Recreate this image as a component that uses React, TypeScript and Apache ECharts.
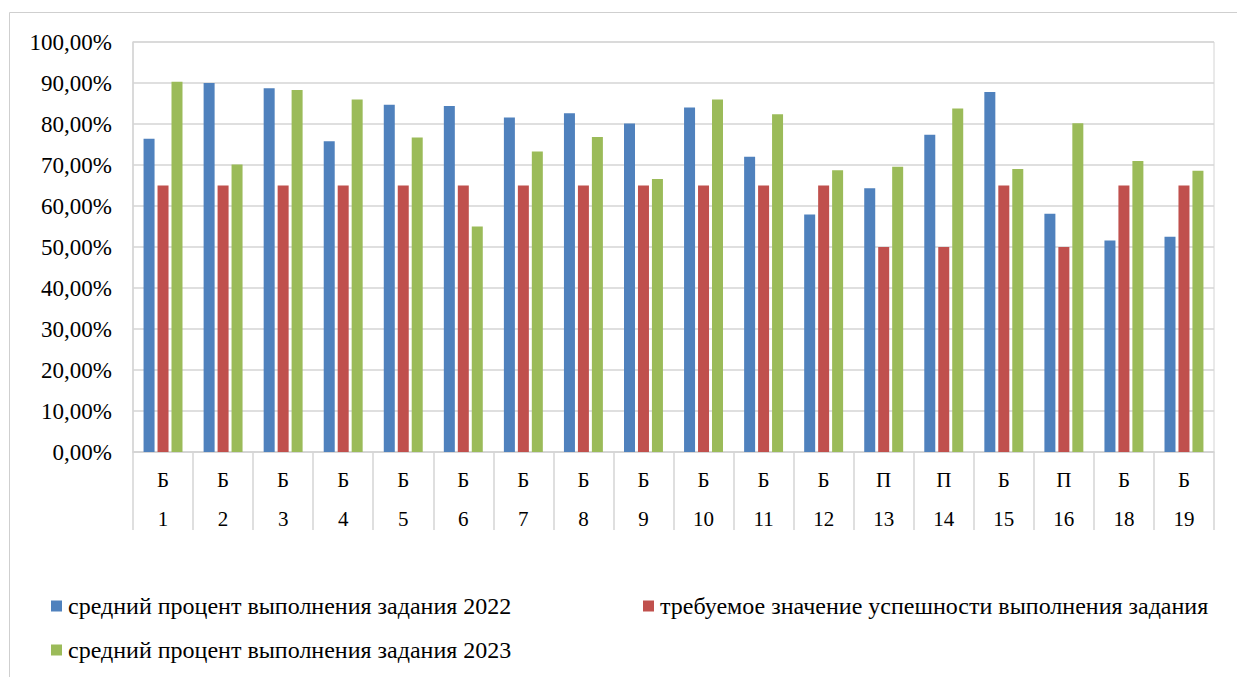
import React, { useEffect, useRef } from "react";
import * as echarts from "echarts";

const types = ["Б", "Б", "Б", "Б", "Б", "Б", "Б", "Б", "Б", "Б", "Б", "Б", "П", "П", "Б", "П", "Б", "Б"];
const numbers = ["1", "2", "3", "4", "5", "6", "7", "8", "9", "10", "11", "12", "13", "14", "15", "16", "18", "19"];

const seriesNames = [
  "средний процент выполнения задания 2022",
  "требуемое значение успешности выполнения задания",
  "средний процент выполнения задания 2023",
];

const avg2022 = [0.764, 0.9, 0.887, 0.758, 0.847, 0.844, 0.816, 0.826, 0.801, 0.84, 0.72, 0.579, 0.643, 0.774, 0.878, 0.581, 0.516, 0.525];
const required = [0.65, 0.65, 0.65, 0.65, 0.65, 0.65, 0.65, 0.65, 0.65, 0.65, 0.65, 0.65, 0.5, 0.5, 0.65, 0.5, 0.65, 0.65];
const avg2023 = [0.903, 0.701, 0.883, 0.86, 0.767, 0.55, 0.733, 0.768, 0.666, 0.86, 0.824, 0.687, 0.696, 0.838, 0.69, 0.802, 0.71, 0.686];

const colors = ["#4F81BD", "#C0504D", "#9BBB59"];
const FONT = "Liberation Serif";

export default function App() {
  const ref = useRef<HTMLDivElement>(null);
  useEffect(() => {
    if (!ref.current) return;
    const chart = echarts.init(ref.current, null, { renderer: "svg" });
    const values = [avg2022, required, avg2023];
    const legendPos = [
      { left: 51, top: 594 },
      { left: 643, top: 594 },
      { left: 51, top: 638 },
    ];
    chart.setOption({
      animation: false,
      color: colors,
      textStyle: { fontFamily: FONT },
      graphic: [
        {
          type: "rect",
          shape: { x: 9.5, y: 12.5, width: 1300, height: 700 },
          style: { fill: "none", stroke: "#cfcfcf", lineWidth: 1 },
          silent: true,
        },
      ],
      legend: seriesNames.map((name, i) => ({
        data: [name],
        left: legendPos[i].left,
        top: legendPos[i].top,
        itemWidth: 11,
        itemHeight: 11,
        itemGap: 5,
        icon: "rect",
        padding: 0,
        selectedMode: false,
        textStyle: { fontFamily: FONT, fontSize: 24, color: "#000", padding: [0, 0, 0, 1] },
      })),
      grid: {
        left: 133,
        right: 23,
        top: 42,
        bottom: 225,
        show: true,
        borderColor: "#d4d4d4",
        borderWidth: 1,
      },
      xAxis: {
        type: "category",
        data: numbers,
        axisLine: { lineStyle: { color: "#d4d4d4", width: 1.5 } },
        axisTick: { show: true, interval: 0, length: 78, lineStyle: { color: "#d4d4d4", width: 1.5 } },
        axisLabel: {
          interval: 0,
          margin: 8,
          fontFamily: FONT,
          fontSize: 21,
          color: "#000",
          lineHeight: 39,
          formatter: (v: string, i: number) => `${types[i]}\n${v}`,
        },
      },
      yAxis: {
        type: "value",
        min: 0,
        max: 1,
        interval: 0.1,
        axisLine: { show: true, lineStyle: { color: "#d4d4d4", width: 1.5 } },
        axisTick: { show: false },
        splitLine: { lineStyle: { color: "#d4d4d4", width: 1.5 } },
        axisLabel: {
          margin: 21,
          fontFamily: FONT,
          fontSize: 23,
          color: "#000",
          formatter: (v: number) => (v * 100).toFixed(2).replace(".", ",") + "%",
        },
      },
      series: seriesNames.map((name, i) => ({
        name,
        type: "bar",
        data: values[i],
        barWidth: 11,
        barGap: "27%",
        itemStyle: { color: colors[i] },
      })),
    });
    return () => chart.dispose();
  }, []);
  return (
    <div
      ref={ref}
      style={{ position: "fixed", left: 0, top: 0, width: 1237, height: 677, background: "#fff" }}
    />
  );
}
